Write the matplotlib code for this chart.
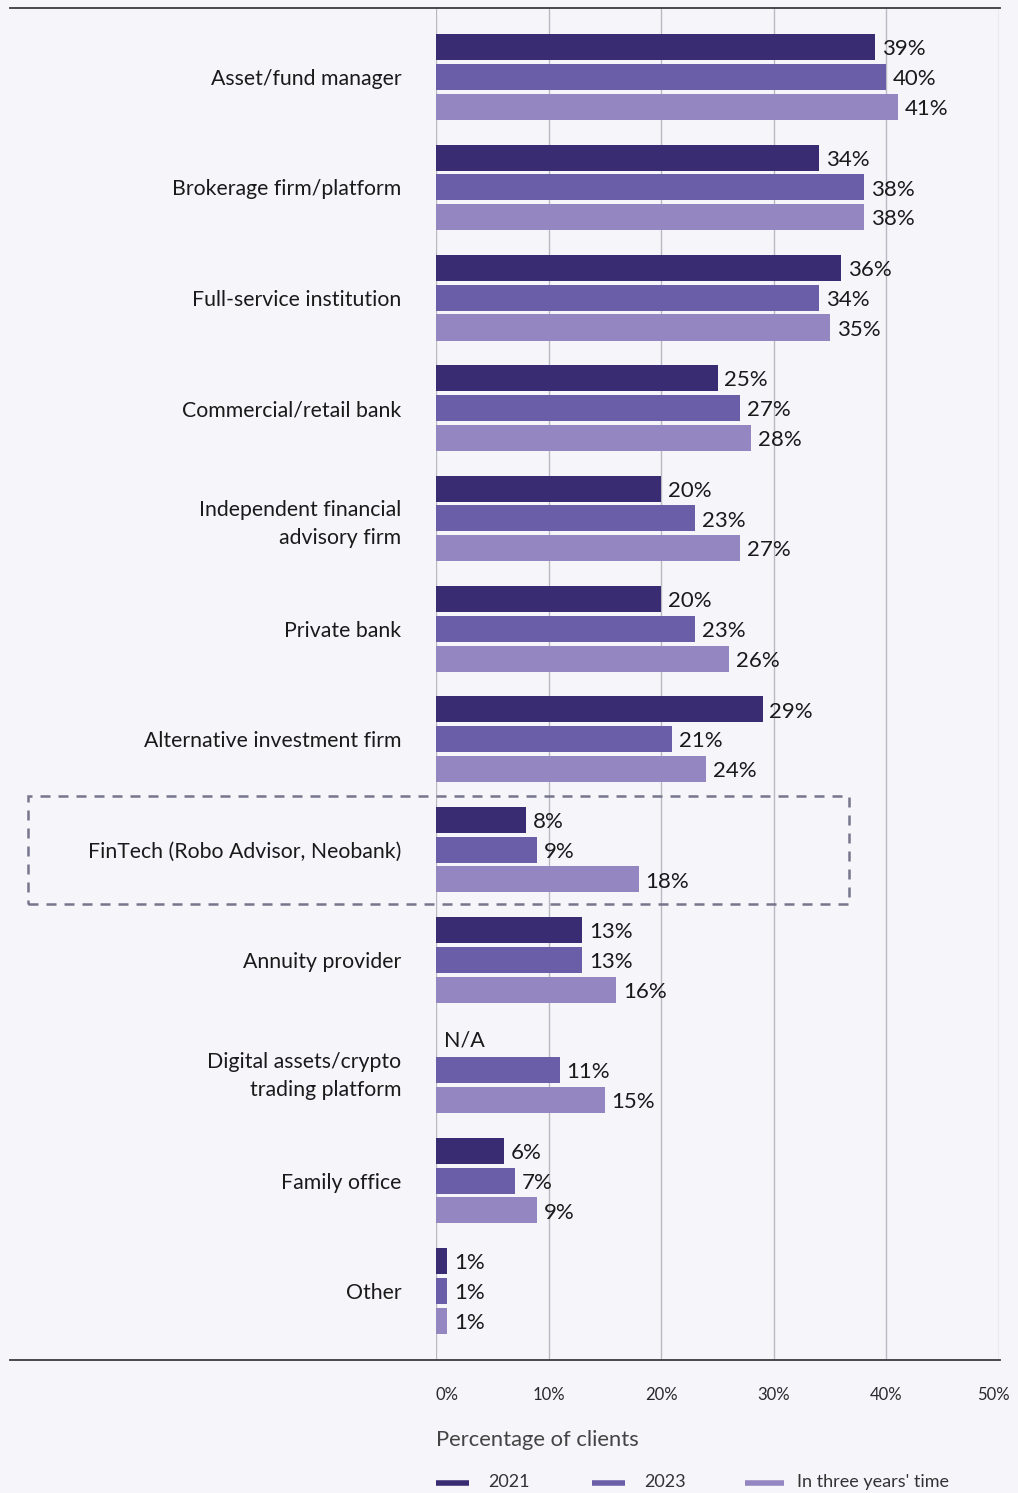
import matplotlib
matplotlib.use("Agg")
import matplotlib.pyplot as plt
from matplotlib.lines import Line2D
from matplotlib.patches import Rectangle
import numpy as np

plt.rcParams['font.family'] = ['Lato', 'DejaVu Sans']

categories = [
    "Asset/fund manager",
    "Brokerage firm/platform",
    "Full-service institution",
    "Commercial/retail bank",
    "Independent financial\nadvisory firm",
    "Private bank",
    "Alternative investment firm",
    "FinTech (Robo Advisor, Neobank)",
    "Annuity provider",
    "Digital assets/crypto\ntrading platform",
    "Family office",
    "Other",
]
series_names = ["2021", "2023", "In three years' time"]
values_2021 = [39, 34, 36, 25, 20, 20, 29, 8, 13, None, 6, 1]
values_2023 = [40, 38, 34, 27, 23, 23, 21, 9, 13, 11, 7, 1]
values_3y = [41, 38, 35, 28, 27, 26, 24, 18, 16, 15, 9, 1]
xticks = [0, 10, 20, 30, 40, 50]
xtick_labels = ["0%", "10%", "20%", "30%", "40%", "50%"]
highlight = "FinTech (Robo Advisor, Neobank)"

colors = ["#3a2c72", "#6a5ea9", "#9486c0"]
bg = "#f6f5fa"
text_c = "#1a1a1a"

W, H = 1018, 1493
fig = plt.figure(figsize=(W / 100, H / 100), dpi=100, facecolor=bg)
ax = fig.add_axes([436 / W, 1 - 1360 / H, (999 - 436) / W, (1360 - 8) / H])
ax.set_facecolor(bg)

n = len(categories)
y = np.arange(n)
offsets = [-0.27, 0.0, 0.27]
bar_h = 0.236

for k, (vals, col) in enumerate(zip([values_2021, values_2023, values_3y], colors)):
    for i, v in enumerate(vals):
        yy = y[i] + offsets[k]
        if v is None:
            ax.text(0.7, yy, "N/A", ha="left", va="center", fontsize=15.5, color=text_c)
            continue
        ax.barh(yy, v, height=bar_h, color=col, zorder=3)
        ax.text(v + 0.6, yy + 0.02, f"{v}%", ha="left", va="center",
                fontsize=16, color=text_c, zorder=4)

ax.set_xlim(0, 50)
ax.set_ylim(n - 0.375, -0.625)
ax.set_xticks(xticks)
ax.set_xticklabels([])
ax.grid(axis="x", color="#b9b9c2", linewidth=1.0, zorder=0)
ax.tick_params(axis="x", length=0)
ax.set_yticks(y)
ax.set_yticklabels(categories, fontsize=15.3, color=text_c, linespacing=1.5)
ax.tick_params(axis="y", length=0, pad=25)
for lbl in ax.get_yticklabels():
    lbl.set_horizontalalignment("right")
for s in ax.spines.values():
    s.set_visible(False)

# top and bottom rules spanning the full width
for yp in (8, 1360):
    fig.add_artist(Line2D([10 / W, 1000 / W], [1 - yp / H, 1 - yp / H],
                          color="#3a3a40", linewidth=1.3))

# dashed frame around the highlighted category
hi = categories.index(highlight)
yc = 77 + hi * 110.4
fig.add_artist(Rectangle((28 / W, 1 - (yc + 54) / H), (849 - 28) / W, 108 / H,
                         fill=False, edgecolor="#77768c", linewidth=1.8,
                         linestyle=(0, (4, 3.2))))

# x tick labels below the rule
tick_px = [436 + t * 11.26 for t in xticks]
for t, px, lab in zip(xticks, tick_px, xtick_labels):
    ha = "left" if t == 0 else ("right" if t == 50 else "center")
    xp = px if t in (0,) else (1010 if t == 50 else px)
    fig.text(xp / W, 1 - 1395 / H, lab, ha=ha, va="center", fontsize=12, color="#2a2a2a")

fig.text(436 / W, 1 - 1440 / H, "Percentage of clients", ha="left", va="center",
         fontsize=15.8, color="#444444")

# legend
leg = [(436, 469, 488), (592, 625, 644), (745, 784, 797)]
for (x0, x1, xt), name, col in zip(leg, series_names, colors):
    fig.add_artist(Line2D([x0 / W, x1 / W], [1 - 1483 / H, 1 - 1483 / H],
                          color=col, linewidth=4, solid_capstyle="butt"))
    fig.text(xt / W, 1 - 1482 / H, name, ha="left", va="center", fontsize=13, color="#333333")

fig.savefig("out.png", dpi=100, facecolor=bg)
